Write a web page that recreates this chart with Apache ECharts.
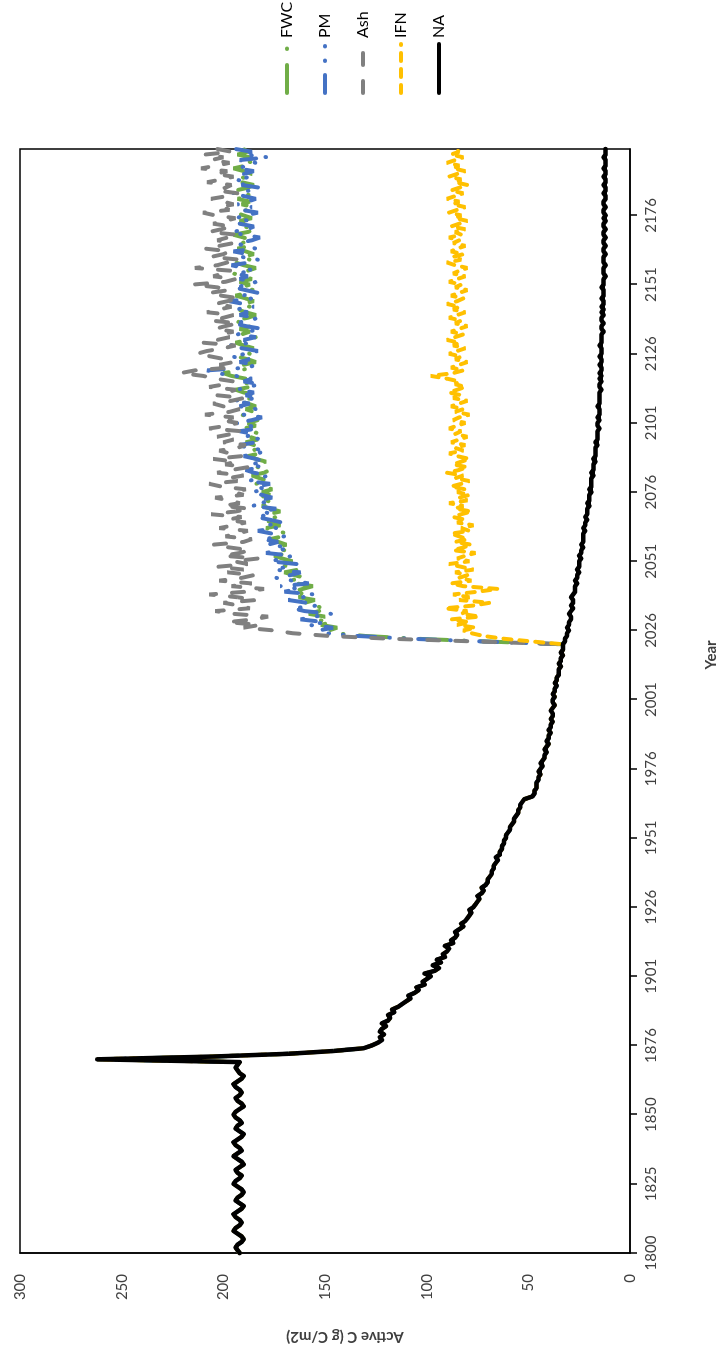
<!DOCTYPE html>
<html>
<head>
<meta charset="utf-8">
<script src="https://cdn.jsdelivr.net/npm/echarts@6/dist/echarts.min.js"></script>
<style>
html,body{margin:0;padding:0;background:#fff;overflow:hidden;width:720px;height:1358px;}
#chart{position:absolute;width:1358px;height:720px;left:-319px;top:319px;transform:rotate(-90deg);background:#fff;}
</style>
</head>
<body>
<div id="chart"></div>
<script>
// Year categories (the source skips 1851)
const years = [];
for (let y = 1800; y <= 2200; y++) { if (y !== 1851) years.push(String(y)); }

// NA (no action) series, one value per category
const naValues = [
192,193,194,193,191,190,191,193,195,194,
192,191,192,194,195,193,191,190,192,194,
193,191,190,191,193,195,194,192,191,193,
194,192,190,191,193,195,193,191,192,194,
195,193,191,190,192,194,193,191,192,194,
195,194,192,190,191,193,194,192,191,192,
194,195,193,191,190,192,193,194,193,192,
262,205,168,146,131,127,124,122,123,121,
123,122,120,122,119,118,119,116,117,114,
112,110,108,109,106,104,105,101,102,100,
98,101,96,94,97,93,95,91,92,90,
89,91,87,88,86,85,86,84,82,83,
81,80,79,78,79,77,76,75,74,75,
73,72,73,71,70,70,69,68,68,67,
67,66,65,66,64,64,63,63,62,62,
61,61,60,59,59,58,57,57,56,55,
55,54,54,53,52,48,47,47,46,46,
46,45,45,44,45,44,43,44,43,42,
42,41,42,41,40,41,40,40,39,40,
39,39,38,39,38,38,39,38,37,38,
38,37,38,37,37,36,37,36,36,35,
35,35,34,35,34,34,33,34,33,33,
33,32,32,31,31,30,31,30,30,29,
29,30,29,28,29,28,28,29,28,27,
27,27,26,27,26,26,25,26,25,25,
25,24,25,24,24,23,24,23,23,23,
23,22,23,22,22,21,22,21,21,21,
20,21,20,20,20,19,20,19,19,19,
19,18,19,18,18,18,17,18,17,17,
17,17,16,17,16,16,16,16,15,16,
16,15,16,15,15,15,16,15,15,15,
15,15,14,15,15,14,15,14,15,14,
14,15,14,14,15,14,14,14,15,14,
14,14,14,13,14,14,13,14,14,13,
14,13,14,13,13,14,13,13,13,14,
13,13,13,12,13,13,13,12,13,13,
13,12,13,13,12,13,13,12,13,13,
12,13,13,12,13,12,13,13,12,13,
13,12,12,13,12,12,13,12,12,13,
12,12,13,12,12,12,13,12,12,12
];

// Treatment tails, from the category after treatment start (index 221) to the end
const fwcTail = [
70,105,130,145,
148,144,152,147,155,150,158,153,149,157,
160,155,163,158,166,161,156,164,168,160,
165,170,163,168,172,166,171,175,167,170,
174,169,173,177,171,168,175,179,172,176,
180,174,178,172,177,181,175,179,183,177,
181,176,180,184,178,182,186,180,177,183,
185,179,184,188,182,186,181,185,189,183,
187,182,186,190,184,188,183,187,191,185,
189,184,188,192,186,183,190,194,187,191,
185,189,196,200,192,186,190,184,188,193,
187,191,185,190,194,188,184,191,187,192,
186,190,195,188,184,189,193,187,191,185,
189,194,188,185,191,187,192,186,190,195,
188,184,190,194,187,191,185,189,193,187,
191,186,190,195,188,184,190,187,192,186,
190,194,188,185,191,187,193,186,190,194,
188,185,191,187,192,186,190,195,189,185,
191,187,193,188,190
];
const pmTail = [
72,108,134,150,
153,146,158,150,162,155,147,160,166,154,
159,168,161,155,170,163,172,158,166,174,
167,162,175,169,164,177,171,166,179,172,
168,178,173,181,170,176,183,174,179,171,
177,184,176,181,174,186,179,183,176,181,
186,179,184,177,188,182,178,185,189,181,
187,180,184,190,183,179,188,192,184,181,
189,185,192,183,187,194,186,181,190,188,
184,192,187,195,183,189,185,193,188,182,
190,186,194,203,208,188,184,192,187,196,
189,183,191,197,186,190,184,193,188,181,
189,195,187,183,192,188,194,185,190,197,
186,191,183,189,195,187,184,192,188,194,
185,190,196,187,183,191,188,195,184,190,
193,186,182,190,196,188,185,192,187,194,
189,183,191,186,193,188,184,190,196,187,
182,191,188,194,186,190,185,193,188,184,
192,178,190,186,194
];
const ashTail = [
75,118,148,166,
175,190,182,198,185,178,195,204,187,192,
200,184,193,207,189,180,196,186,202,191,
185,198,190,203,188,195,183,200,192,187,
197,205,190,186,199,193,188,202,195,189,
198,191,206,194,187,200,192,197,204,190,
195,189,201,207,193,198,190,203,196,188,
199,194,205,191,197,202,193,189,200,195,
203,196,191,207,198,193,201,195,209,197,
192,200,205,196,190,203,198,194,207,199,
195,204,210,221,214,197,202,195,199,206,
213,208,200,194,210,203,197,201,195,204,
199,193,206,200,195,208,202,196,204,198,
192,201,207,197,203,215,199,194,205,200,
196,214,203,198,192,206,200,197,209,202,
195,203,198,193,207,201,196,205,199,194,
204,210,197,202,195,200,206,198,193,203,
199,196,208,201,195,204,198,211,203,197,
206,200,209,196,203
];
const ifnTail = [
48,62,72,78,
82,76,85,79,88,74,83,80,91,77,
69,84,79,87,75,65,82,88,78,84,
80,86,77,83,89,79,85,81,76,87,
82,78,86,80,84,88,79,83,77,85,
81,87,83,78,86,82,89,80,84,79,
85,81,88,83,79,86,82,90,84,80,
87,83,79,85,89,82,86,81,88,84,
80,86,83,89,85,81,87,84,79,86,
82,88,84,80,87,83,89,85,81,86,
84,90,98,87,82,88,84,80,86,83,
89,85,81,87,84,90,86,82,88,84,
80,86,83,89,85,81,87,84,90,85,
82,88,84,80,86,83,89,85,81,87,
84,80,86,90,83,87,82,88,85,81,
87,84,89,83,86,81,88,84,80,86,
83,89,85,81,87,84,90,86,82,88,
84,80,86,83,89,85,81,87,84,90,
86,82,88,84,86
];
const treatStart = 221;
const seriesNames = ['FWC', 'PM', 'Ash', 'IFN', 'NA'];
const yTicks = [0, 50, 100, 150, 200, 250, 300];

function withBaseline(tail) {
  return naValues.slice(0, treatStart).concat(tail);
}

const FONT = 'Lato, "Liberation Sans", sans-serif';
const chart = echarts.init(document.getElementById('chart'), null, {renderer: 'canvas', width: 1358, height: 720});

const option = {
  animation: false,
  backgroundColor: '#ffffff',
  grid: {left: 105, right: 149, top: 20, bottom: 90, show: true, borderColor: '#000', borderWidth: 1.5, containLabel: false},
  legend: {
    orient: 'vertical', left: 1258, top: 274, itemWidth: 49, itemHeight: 16, itemGap: 22,
    data: seriesNames,
    itemStyle: {opacity: 0},
    lineStyle: {width: 4},
    textStyle: {fontFamily: FONT, fontSize: 16, color: '#000', lineHeight: 16, padding: [0, 0, 0, 1]}
  },
  xAxis: {
    type: 'category', data: years, boundaryGap: false,
    axisLine: {lineStyle: {color: '#000', width: 1.5}},
    axisTick: {interval: 24, length: 7, lineStyle: {color: '#000', width: 1.5}},
    axisLabel: {interval: 24, margin: 14, fontFamily: FONT, fontSize: 15, color: '#404040'},
    splitLine: {show: false}
  },
  yAxis: {
    type: 'value', min: yTicks[0], max: yTicks[yTicks.length - 1], interval: 50,
    axisLine: {show: true, lineStyle: {color: '#000', width: 1.5}},
    axisTick: {show: false},
    axisLabel: {margin: 21, fontFamily: FONT, fontSize: 15, color: '#404040'},
    splitLine: {show: false}
  },
  graphic: [
    {type: 'text', x: 21, y: 345, rotation: Math.PI / 2,
     style: {text: 'Active C (g C/m2)', font: 'bold 15px ' + FONT, fill: '#404040', align: 'center', verticalAlign: 'middle'}},
    {type: 'text', x: 703, y: 711,
     style: {text: 'Year', font: 'bold 15px ' + FONT, fill: '#404040', align: 'center', verticalAlign: 'middle'}}
  ],
  series: [
    {name: 'FWC', type: 'line', data: withBaseline(fwcTail), symbol: 'none', color: '#70AD47',
     lineStyle: {color: '#70AD47', width: 4, cap: 'round', type: [28, 16, 0.5, 16]}},
    {name: 'PM', type: 'line', data: withBaseline(pmTail), symbol: 'none', color: '#4472C4',
     lineStyle: {color: '#4472C4', width: 4, cap: 'round', type: [18, 14, 0.5, 14, 0.5, 14]}},
    {name: 'Ash', type: 'line', data: withBaseline(ashTail), symbol: 'none', color: '#808080',
     lineStyle: {color: '#808080', width: 4, cap: 'round', type: [12, 16]}},
    {name: 'IFN', type: 'line', data: withBaseline(ifnTail), symbol: 'none', color: '#FFC000',
     lineStyle: {color: '#FFC000', width: 4, cap: 'round', type: [8, 8]}},
    {name: 'NA', type: 'line', data: naValues, symbol: 'none', color: '#000000',
     lineStyle: {color: '#000000', width: 4.5, cap: 'round', join: 'round'}}
  ]
};
chart.setOption(option);
</script>
</body>
</html>
